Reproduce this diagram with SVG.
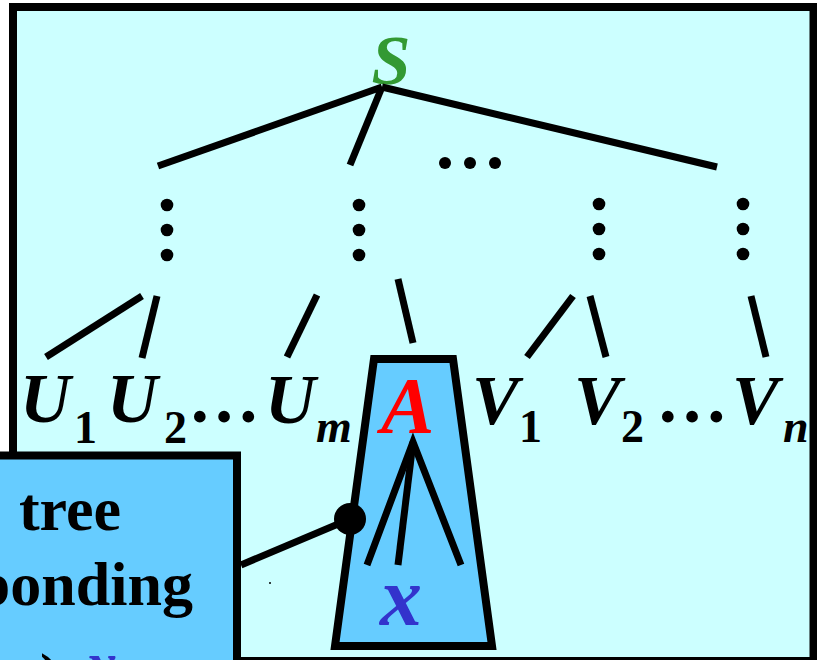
<svg xmlns="http://www.w3.org/2000/svg" width="817" height="660" viewBox="0 0 817 660">
<style>
.ln{stroke:#000;stroke-width:7;fill:none}
.lbl{font-family:"Liberation Serif","Times New Roman",serif;font-weight:bold;font-style:italic;font-size:70px;fill:#000}
.sub{font-family:"Liberation Serif","Times New Roman",serif;font-weight:bold;font-size:46px;fill:#000}
.subi{font-family:"Liberation Serif","Times New Roman",serif;font-weight:bold;font-style:italic;font-size:46px;fill:#000}
.dots{font-family:"Liberation Serif","Times New Roman",serif;font-weight:bold;font-size:72px;fill:#000}
.call{font-family:"Liberation Serif","Times New Roman",serif;font-weight:bold;font-size:62px;fill:#000}
</style>
<rect x="13" y="7" width="800.5" height="654" fill="#CCFFFF" stroke="#000" stroke-width="8"/>

<g id="S"><text x="391" y="84" text-anchor="middle" class="lbl" style="fill:#339933">S</text></g>

<g id="connectors">
<line class="ln" x1="382" y1="87" x2="158" y2="166"/>
<line class="ln" x1="382" y1="87" x2="350" y2="165"/>
<line class="ln" x1="382" y1="87" x2="717" y2="167"/>
<line class="ln" x1="142" y1="296" x2="46" y2="357"/>
<line class="ln" x1="157" y1="296" x2="142" y2="358"/>
<line class="ln" x1="317" y1="295" x2="287" y2="357"/>
<line class="ln" x1="398" y1="279" x2="413" y2="343"/>
<line class="ln" x1="573" y1="296" x2="527" y2="357"/>
<line class="ln" x1="590" y1="296" x2="606" y2="357"/>
<line class="ln" x1="751" y1="296" x2="766" y2="357"/>
</g>

<g id="ellipsis-top" fill="#000">
<circle cx="445" cy="163" r="6"/><circle cx="470" cy="163" r="6"/><circle cx="495" cy="163" r="6"/>
</g>
<g id="vdots" fill="#000">
<circle cx="167" cy="205" r="6.3"/><circle cx="167" cy="230" r="6.3"/><circle cx="167" cy="255" r="6.3"/>
<circle cx="359" cy="205" r="6.3"/><circle cx="359" cy="230" r="6.3"/><circle cx="359" cy="255" r="6.3"/>
<circle cx="599" cy="204" r="6.3"/><circle cx="599" cy="229" r="6.3"/><circle cx="599" cy="254" r="6.3"/>
<circle cx="743" cy="204" r="6.3"/><circle cx="743" cy="229" r="6.3"/><circle cx="743" cy="254" r="6.3"/>
</g>

<g id="U1"><text x="20" y="422" class="lbl">U</text><text x="74" y="443" class="sub">1</text></g>
<g id="U2"><text x="107" y="422" class="lbl">U</text><text x="164" y="443" class="sub">2</text></g>
<g id="dots1"><text x="188" y="422" class="dots">…</text></g>
<g id="Um"><text x="265" y="423" class="lbl">U</text><text x="316" y="442" class="subi">m</text></g>

<g id="A-subtree">
<polygon points="374,359 453,359 492,646 335,646" fill="#66CCFF" stroke="#000" stroke-width="8" stroke-linejoin="miter"/>
<text x="381" y="433" class="lbl" style="font-size:80px;fill:#FF0000">A</text>
<polyline class="ln" points="367,565 413,442 461,565"/>
<line class="ln" x1="413" y1="442" x2="398" y2="565"/>
<text x="380" y="625" class="lbl" style="font-size:84px;fill:#3333CC">x</text>
</g>

<g id="V1"><text x="472" y="424" class="lbl">V</text><text x="519" y="442" class="sub">1</text></g>
<g id="V2"><text x="574" y="424" class="lbl">V</text><text x="621" y="442" class="sub">2</text></g>
<g id="dots2"><text x="656" y="422" class="dots">…</text></g>
<g id="Vn"><text x="732" y="424" class="lbl">V</text><text x="783" y="442" class="subi">n</text></g>

<g id="callout">
<rect x="-20" y="455.5" width="257" height="230" fill="#66CCFF" stroke="#000" stroke-width="8"/>
<text x="70" y="530" text-anchor="middle" class="call">tree</text>
<text x="193" y="605" text-anchor="end" class="call">ponding</text>
<text x="40" y="696" class="call">)</text>
<text x="86" y="684" class="call" style="font-style:italic;fill:#3333CC">x</text>
</g>

<g id="callout-link">
<line class="ln" x1="241" y1="565" x2="350" y2="519"/>
<circle cx="350" cy="519" r="16" fill="#000"/>
<circle cx="270" cy="583" r="1" fill="#000"/>
</g>
</svg>
